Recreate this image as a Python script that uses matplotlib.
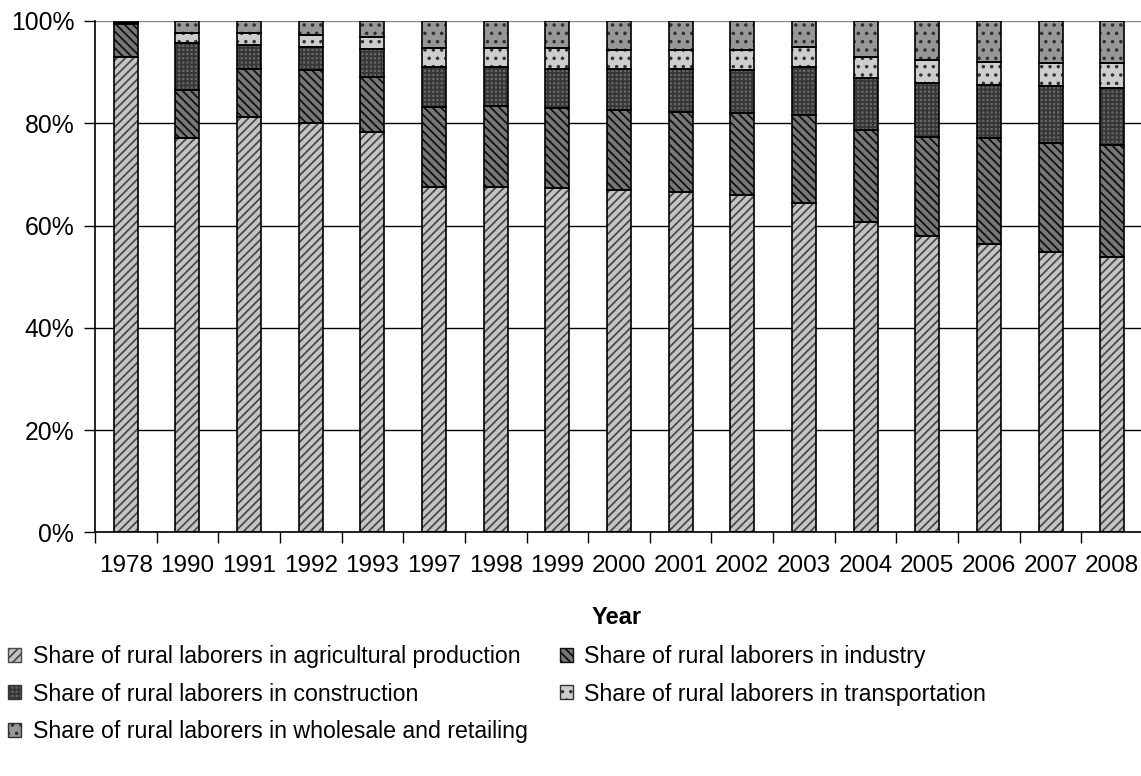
import numpy as np
import matplotlib
matplotlib.use("Agg")
import matplotlib.pyplot as plt

years = ["1978", "1990", "1991", "1992", "1993", "1997", "1998", "1999", "2000",
         "2001", "2002", "2003", "2004", "2005", "2006", "2007", "2008"]

# shares of rural laborers by sector, percent
agriculture = [93.0, 77.1, 81.3, 80.0, 78.3, 67.6, 67.5, 67.3, 66.9,
               66.6, 66.0, 64.5, 60.6, 58.0, 56.4, 54.8, 53.8]
industry = [6.35, 9.4, 9.4, 10.4, 10.8, 15.6, 15.8, 15.6, 15.7,
            15.7, 16.0, 17.1, 18.1, 19.4, 20.7, 21.3, 21.9]
construction = [0.2, 9.1, 4.6, 4.6, 5.4, 7.9, 7.8, 7.8, 8.1,
                8.4, 8.4, 9.5, 10.1, 10.4, 10.4, 11.1, 11.1]
transportation = [0.1, 2.1, 2.3, 2.3, 2.4, 3.6, 3.6, 4.0, 3.6,
                  3.6, 3.9, 3.9, 4.2, 4.6, 4.5, 4.5, 4.9]
wholesale = [0.35, 2.3, 2.4, 2.7, 3.1, 5.3, 5.3, 5.3, 5.7,
             5.7, 5.7, 5.0, 7.0, 7.6, 8.0, 8.3, 8.3]

labels = ["Share of rural laborers in agricultural production",
          "Share of rural laborers in industry",
          "Share of rural laborers in construction",
          "Share of rural laborers in transportation",
          "Share of rural laborers in wholesale and retailing"]

# face colour, hatch colour, hatch pattern
styles = [("#c4c4c4", "#4a4a4a", "////"),
          ("#777777", "#111111", "\\\\\\\\"),
          ("#666666", "#363636", "++++"),
          ("#cdcdcd", "#333333", ".."),
          ("#979797", "#303030", "..")]

plt.rcParams["font.family"] = ["Liberation Sans", "DejaVu Sans"]
plt.rcParams["hatch.linewidth"] = 1.3

fig = plt.figure(figsize=(11.41, 7.76), dpi=100)
ax = fig.add_axes([95 / 1141, 1 - 532.3 / 776, 1048 / 1141, 511.3 / 776])

x = np.arange(len(years))
width = 0.39
bottom = np.zeros(len(years))
handles = []
for series, (face, hcol, hatch), lab in zip(
        [agriculture, industry, construction, transportation, wholesale], styles, labels):
    vals = np.array(series)
    ax.bar(x, vals, width, bottom=bottom, color=face, edgecolor=hcol,
           hatch=hatch, linewidth=0, zorder=2)
    ax.bar(x, vals, width, bottom=bottom, fill=False, edgecolor="black",
           linewidth=1.2, zorder=3)
    handles.append(plt.Rectangle((0, 0), 1, 1, facecolor=face, edgecolor=hcol,
                                 hatch=hatch, linewidth=1.0, label=lab))
    bottom += vals

ax.set_xlim(-0.5, len(years) - 0.5)
ax.set_ylim(0, 100)
ax.set_yticks(np.arange(0, 101, 20))
ax.set_yticklabels([f"{v}%" for v in range(0, 101, 20)], fontsize=17.8)
ax.set_xticks(x)
ax.set_xticklabels(years, fontsize=17.5)
ax.set_xticks(np.arange(-0.5, len(years), 1.0), minor=True)
ax.tick_params(axis="x", which="major", length=0, pad=16)
ax.tick_params(axis="x", which="minor", length=8, direction="out", width=1)
ax.tick_params(axis="y", length=8, direction="out", width=1, pad=7)

ax.yaxis.grid(True, color="black", linewidth=1)
ax.get_ygridlines()[-1].set_color("#888888")
ax.set_axisbelow(True)
for side in ["top", "right"]:
    ax.spines[side].set_visible(False)
ax.spines["left"].set_linewidth(1.2)
ax.spines["bottom"].set_linewidth(1.2)

fig.text(617 / 1141, 1 - 617 / 776, "Year", fontsize=17, fontweight="bold",
         ha="center", va="center")

order = [0, 2, 4, 1, 3]
fig.legend([handles[i] for i in order], [labels[i] for i in order],
           loc="upper left", bbox_to_anchor=(-8 / 1141, 1 - 629 / 776), ncol=2,
           frameon=False, fontsize=16.7, handlelength=0.55, handleheight=0.55,
           handletextpad=0.5, columnspacing=1.4, labelspacing=0.62,
           borderaxespad=0.3)

fig.savefig("out.png", dpi=100)
